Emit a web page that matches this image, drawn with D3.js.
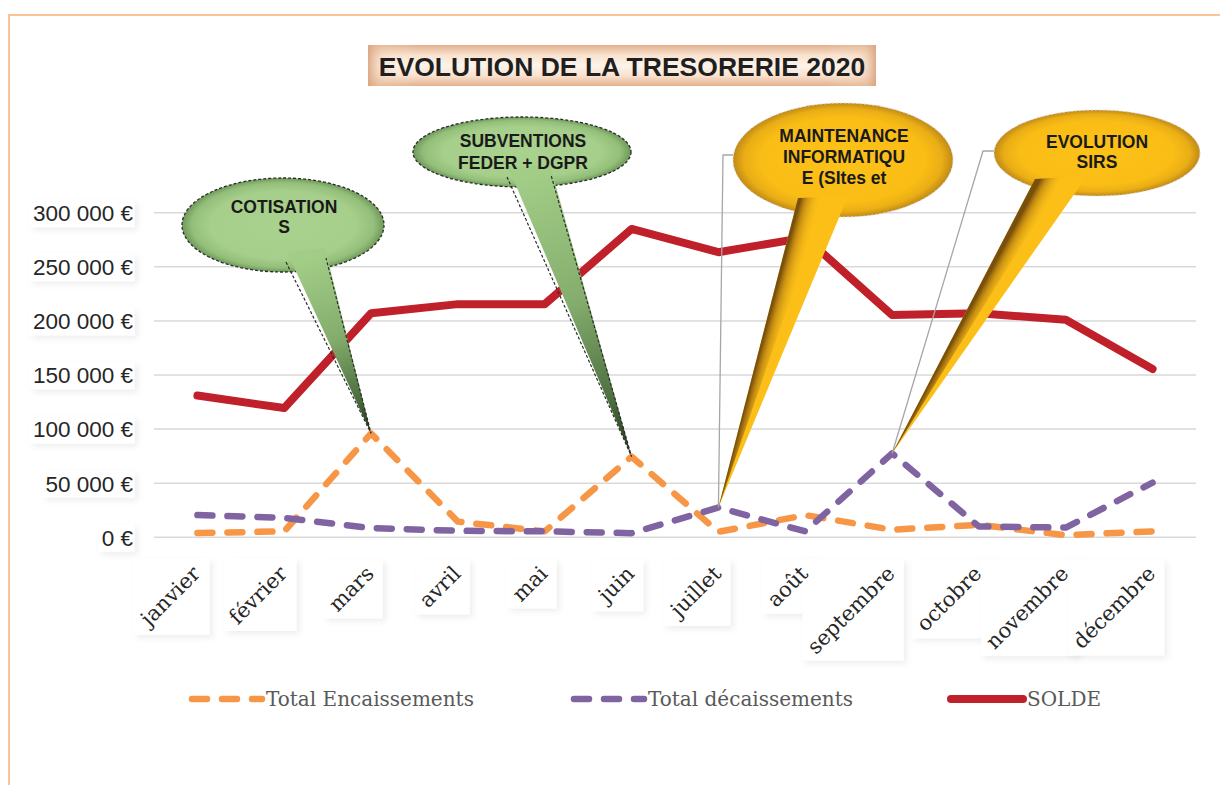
<!DOCTYPE html>
<html><head><meta charset="utf-8">
<script src="https://cdn.jsdelivr.net/npm/d3@7/dist/d3.min.js"></script>
<style>
html,body{margin:0;padding:0;background:#fff;}
svg{display:block;}
</style></head>
<body>
<svg id="chart" width="1220" height="785"></svg>
<script>
// ---------- data ----------
const months = ["janvier","février","mars","avril","mai","juin","juillet","août","septembre","octobre","novembre","décembre"];
const encaissements = [4000, 5500, 96000, 14500, 5500, 74500, 5000, 20500, 7000, 11500, 2000, 5500];
const decaissements = [20500, 18000, 8500, 6000, 5500, 3800, 27500, 5500, 77500, 10000, 9000, 50500];
const solde = [131000, 119500, 207000, 215500, 215500, 285000, 263500, 277000, 205500, 207000, 201000, 155500];
const yTicks = [0, 50000, 100000, 150000, 200000, 250000, 300000];
const seriesNames = ["Total Encaissements", "Total décaissements", "SOLDE"];
const titleText = "EVOLUTION DE LA TRESORERIE 2020";
const calloutTexts = [["COTISATION","S"],["SUBVENTIONS","FEDER + DGPR"],["MAINTENANCE","INFORMATIQU","E (SItes et"],["EVOLUTION","SIRS"]];

// ---------- setup ----------
const svg = d3.select("#chart");
const defs = svg.append("defs");
const x = d3.scaleBand().domain(months).range([154, 1196]);
const y = d3.scaleLinear().domain([0, 300000]).range([537.3, 212.7]);
const cx = m => x(m) + x.bandwidth()/2;

const colors = {enc:"#f79646", dec:"#8064a2", sol:"#c0202a"};

// filters / gradients
const f = defs.append("filter").attr("id","sh").attr("x","-20%").attr("y","-20%").attr("width","150%").attr("height","160%");
f.append("feDropShadow").attr("dx",3).attr("dy",3).attr("stdDeviation",3).attr("flood-color","#000").attr("flood-opacity",0.07);

function radial(id, stops){
  const g = defs.append("radialGradient").attr("id",id).attr("cx","50%").attr("cy","50%").attr("r","50%");
  stops.forEach(s=>g.append("stop").attr("offset",s[0]).attr("stop-color",s[1]));
}
radial("gGreen",[["0%","#a9d28e"],["72%","#a5cf8a"],["90%","#94bf7b"],["100%","#6e9959"]]);
radial("gGold",[["0%","#fdc218"],["75%","#f9bd16"],["90%","#eaae16"],["100%","#c18a17"]]);

// title gradients
const tv = defs.append("linearGradient").attr("id","tV").attr("x1",0).attr("y1",0).attr("x2",0).attr("y2",1);
[["0%","#e2b08c"],["25%","#f9e2cf"],["50%","#fdf3ea"],["75%","#f9e2cf"],["100%","#e2b08c"]].forEach(s=>tv.append("stop").attr("offset",s[0]).attr("stop-color",s[1]));
const th = defs.append("linearGradient").attr("id","tH").attr("x1",0).attr("y1",0).attr("x2",1).attr("y2",0);
[["0%","#d9a37e",0.9],["3%","#f3d2b8",0.3],["10%","#fdf3ea",0],["90%","#fdf3ea",0],["97%","#f3d2b8",0.3],["100%","#d9a37e",0.9]].forEach(s=>th.append("stop").attr("offset",s[0]).attr("stop-color",s[1]).attr("stop-opacity",s[2]));

// ---------- frame ----------
svg.append("path").attr("d","M9,785 L9,15 L1220,15").attr("fill","none").attr("stroke","#fac596").attr("stroke-width",2);

// ---------- title ----------
const tg = svg.append("g");
tg.append("rect").attr("x",368).attr("y",45).attr("width",508).attr("height",41).attr("fill","url(#tV)");
tg.append("rect").attr("x",368).attr("y",45).attr("width",508).attr("height",41).attr("fill","url(#tH)");
tg.append("text").attr("x",622).attr("y",76).attr("text-anchor","middle")
  .attr("font-family","Liberation Sans, Arial, sans-serif").attr("font-weight","bold").attr("font-size",26.5)
  .attr("fill","#1f1f1f").text(titleText);

// ---------- grid ----------
svg.append("g").selectAll("line").data(yTicks).join("line")
  .attr("x1",154).attr("x2",1196).attr("y1",d=>y(d)).attr("y2",d=>y(d))
  .attr("stroke","#d9d9d9").attr("stroke-width",1.5);

// ---------- y axis ----------
const fmt = v => d3.format(",")(v).replace(/,/g," ") + " €";
const yAxis = svg.append("g").attr("transform","translate(133,0)")
  .call(d3.axisLeft(y).tickValues(yTicks).tickSize(0).tickPadding(0).tickFormat(fmt));
yAxis.select(".domain").remove();
yAxis.selectAll("text").attr("font-family","Liberation Sans, Arial, sans-serif").attr("font-size",22.5).attr("fill","#262626").attr("dy","0.35em");
yAxis.selectAll(".tick").each(function(){
  const t = d3.select(this).select("text"); const b = t.node().getBBox();
  d3.select(this).insert("rect","text").attr("x",b.x-3).attr("y",b.y-1).attr("width",b.width+4).attr("height",b.height+2)
    .attr("fill","#fff").attr("filter","url(#sh)");
});

// ---------- x axis ----------
const LX = 4, LY = 38;
const xAxis = svg.append("g").attr("transform","translate(0,537)")
  .call(d3.axisBottom(x).tickSize(0).tickPadding(0));
xAxis.select(".domain").remove();
xAxis.selectAll("text")
  .attr("font-family","DejaVu Serif, serif").attr("font-size",21).attr("fill","#262626")
  .attr("text-anchor","end").attr("dy",0)
  .attr("transform",`translate(${LX},${LY}) rotate(-45)`);
const boxG = xAxis.insert("g",":first-child");
xAxis.selectAll(".tick").each(function(d){
  const t = d3.select(this).select("text"); const b = t.node().getBBox();
  const pts = [[b.x,b.y],[b.x+b.width,b.y],[b.x,b.y+b.height],[b.x+b.width,b.y+b.height]].map(p=>{
    const c=Math.SQRT1_2; return [LX + p[0]*c + p[1]*c, LY - p[0]*c + p[1]*c];
  });
  const xs=pts.map(p=>p[0]), ys=pts.map(p=>p[1]);
  const x0=d3.min(xs), x1=d3.max(xs), y0=d3.min(ys), y1=d3.max(ys);
  boxG.append("rect").attr("x",cx(d)+x0).attr("y",y0-2).attr("width",x1-x0+4).attr("height",y1-y0+4)
    .attr("fill","#fff").attr("filter","url(#sh)");
});

// ---------- lines ----------
const line = d3.line().x((d,i)=>cx(months[i])).y(d=>y(d));
const linesG = svg.append("g").attr("fill","none").attr("stroke-linecap","round").attr("stroke-linejoin","round");
linesG.append("path").datum(encaissements).attr("d",line).attr("stroke",colors.enc).attr("stroke-width",6.5).attr("stroke-dasharray","15,15");
linesG.append("path").datum(decaissements).attr("d",line).attr("stroke",colors.dec).attr("stroke-width",6.5).attr("stroke-dasharray","15,15");
linesG.append("path").datum(solde).attr("d",line).attr("stroke",colors.sol).attr("stroke-width",8);

// ---------- callouts ----------
const callouts = [
  {kind:"green", e:[283,225,101,47], base:[[287,262],[325,258]], tip:[cx("mars"), y(encaissements[2])], lines:calloutTexts[0], ty:[213,233], tx:284},
  {kind:"green", e:[522,152,109,35], base:[[508,177],[550,175]], tip:[cx("juin"), y(encaissements[5])], lines:calloutTexts[1], ty:[147,169], tx:523},
  {kind:"gold", e:[843,160,110,57], base:[[798,208],[848,206]], tip:[cx("juillet"), y(decaissements[6])], lines:calloutTexts[2], ty:[142,163,184], tx:844, leader:[733,155,723]},
  {kind:"gold", e:[1097,153,103,43], base:[[1035,189],[1087,186]], tip:[cx("septembre"), y(decaissements[8])], lines:calloutTexts[3], ty:[148,168], tx:1097, leader:[995,151,983]}
];
const cg = svg.append("g");
callouts.forEach((c,i)=>{
  const g = cg.append("g");
  const [ex,ey,rx,ry] = c.e;
  const [b1,b2] = c.base; const tip = c.tip;
  if(c.leader){
    const [lx0,ly,lx1]=c.leader;
    g.append("path").attr("d",`M${lx0},${ly} H${lx1} L${tip[0]},${tip[1]}`).attr("fill","none").attr("stroke","#a6a6a6").attr("stroke-width",1.3);
  }
  if(c.kind==="green"){
    g.append("ellipse").attr("cx",ex).attr("cy",ey).attr("rx",rx).attr("ry",ry)
      .attr("fill","url(#gGreen)").attr("stroke","#2b2b2b").attr("stroke-width",1.3).attr("stroke-dasharray","3,2");
    const mid=[(b1[0]+b2[0])/2,(b1[1]+b2[1])/2];
    const lg = defs.append("linearGradient").attr("id","tg"+i).attr("gradientUnits","userSpaceOnUse")
      .attr("x1",mid[0]).attr("y1",mid[1]).attr("x2",tip[0]).attr("y2",tip[1]);
    [["0%","#a2cd87"],["45%","#84ad6d"],["80%","#4c6e3f"],["100%","#1c3413"]].forEach(s=>lg.append("stop").attr("offset",s[0]).attr("stop-color",s[1]));
    g.append("path").attr("d",`M${b1[0]},${b1[1]-10} L${tip[0]},${tip[1]} L${b2[0]},${b2[1]-10} Z`).attr("fill",`url(#tg${i})`);
    g.append("path").attr("d",`M${b1[0]-1},${b1[1]} L${tip[0]},${tip[1]} L${b2[0]+1},${b2[1]}`).attr("fill","none")
      .attr("stroke","#2b2b2b").attr("stroke-width",1.2).attr("stroke-dasharray","3,2");
  } else {
    g.append("ellipse").attr("cx",ex).attr("cy",ey).attr("rx",rx).attr("ry",ry)
      .attr("fill","url(#gGold)").attr("stroke","#d9d9d9").attr("stroke-width",1).attr("stroke-dasharray","2,2");
    g.append("path").attr("d",`M${b1[0]},${b1[1]-10} L${tip[0]},${tip[1]} L${b2[0]},${b2[1]-10} Z`).attr("fill","#fbbf18");
    const dx=tip[0]-b1[0], dy=tip[1]-b1[1], L=Math.hypot(dx,dy);
    let nx=-dy/L, ny=dx/L;
    if((b2[0]-b1[0])*nx+(b2[1]-b1[1])*ny<0){nx=-nx;ny=-ny;}
    const lg = defs.append("linearGradient").attr("id","tg"+i).attr("gradientUnits","userSpaceOnUse")
      .attr("x1",b1[0]).attr("y1",b1[1]).attr("x2",b1[0]+nx*20).attr("y2",b1[1]+ny*20);
    [["0%","#6b430b",0.9],["30%","#a8720f",0.6],["100%","#fbbf18",0]].forEach(s=>lg.append("stop").attr("offset",s[0]).attr("stop-color",s[1]).attr("stop-opacity",s[2]));
    const p3=[b1[0]+(b2[0]-b1[0])*0.55, b1[1]+(b2[1]-b1[1])*0.55];
    g.append("path").attr("d",`M${b1[0]},${b1[1]-10} L${tip[0]},${tip[1]} L${p3[0]},${p3[1]-10} Z`).attr("fill",`url(#tg${i})`);
  }
  g.selectAll("text").data(c.lines).join("text")
    .attr("x",c.tx).attr("y",(d,j)=>c.ty[j]).attr("text-anchor","middle")
    .attr("font-family","Liberation Sans, Arial, sans-serif").attr("font-weight","bold").attr("font-size",17.5)
    .attr("fill","#1a1a1a").text(d=>d);
});

// ---------- legend ----------
const legendItems = [
  {name:seriesNames[0], color:colors.enc, dash:"15,15", w:6.5, x0:192, x1:262},
  {name:seriesNames[1], color:colors.dec, dash:"15,15", w:6.5, x0:574, x1:644},
  {name:seriesNames[2], color:colors.sol, dash:null, w:8, x0:951, x1:1023}
];
const lg = svg.append("g");
legendItems.forEach(it=>{
  lg.append("line").attr("x1",it.x0).attr("x2",it.x1).attr("y1",699).attr("y2",699)
    .attr("stroke",it.color).attr("stroke-width",it.w).attr("stroke-linecap","round")
    .attr("stroke-dasharray",it.dash);
  lg.append("text").attr("x",it.x1+4).attr("y",706).attr("font-family","DejaVu Serif, serif").attr("font-size",20)
    .attr("fill","#595959").text(it.name);
});
</script>
</body></html>
